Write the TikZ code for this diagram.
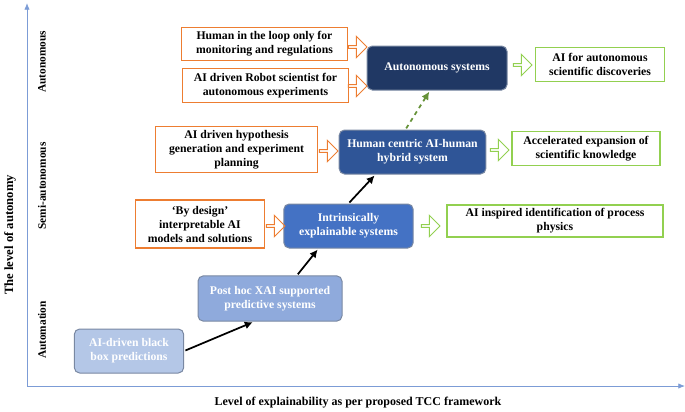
\documentclass[tikz,border=0pt]{standalone}
\usepackage{fontspec}
\setmainfont{Liberation Serif}
\usetikzlibrary{shapes.arrows,arrows.meta,calc}
\definecolor{axisblue}{RGB}{68,114,196}
\definecolor{lvlA}{RGB}{180,199,231}
\definecolor{lvlB}{RGB}{143,170,220}
\definecolor{lvlC}{RGB}{68,114,196}
\definecolor{lvlD}{RGB}{47,85,151}
\definecolor{lvlE}{RGB}{32,56,100}
\definecolor{boxorange}{RGB}{237,125,49}
\definecolor{boxgreen}{RGB}{146,208,80}
\tikzset{every picture/.style={line width=0.75pt}}
\tikzset{
  stage/.style={draw=lvlE!60, rounded corners=4pt, text=white, font=\fontsize{8.8}{10.5}\selectfont\bfseries, align=center, inner sep=1pt},
  driver/.style={draw=boxorange, line width=0.9pt, fill=white, font=\fontsize{8.8}{10.5}\selectfont\bfseries, align=center, inner sep=1pt},
  outcome/.style={draw=boxgreen, line width=0.9pt, fill=white, font=\fontsize{8.8}{10.5}\selectfont\bfseries, align=center, inner sep=1pt},
  hollow/.style={single arrow, draw=#1, line width=0.75pt, minimum width=16pt, single arrow head extend=2.5pt, minimum height=14pt, inner sep=0pt},
  advance/.style={-{Latex[length=6pt,width=6pt]}, line width=1.3pt, shorten >=1pt, shorten <=1pt},
  level/.style={rotate=90, font=\fontsize{8.5}{10}\selectfont\bfseries}
}

\begin{document}
\begin{tikzpicture}[x=0.75pt,y=0.75pt,yscale=-1,xscale=1]
\useasboundingbox (0,0) rectangle (685,411);

% axes
\coordinate (o) at (27,386);
\coordinate (ytop) at (27,3);
\coordinate (xend) at (685,386);
\draw [axisblue!70, line width=0.6pt, -{Latex[length=5pt,width=4pt]}] (o) -- (ytop);
\draw [axisblue!70, line width=0.6pt, -{Latex[length=5pt,width=4pt]}] (o) -- (xend);
\node [rotate=90, font=\fontsize{9.5}{11}\selectfont\bfseries] (ylab) at (10,235) {The level of autonomy};
\node [font=\fontsize{9}{11}\selectfont\bfseries] (xlab) at (358,403) {Level of explainability as per proposed TCC framework};
\node [level] (lauto) at (42,62) {Autonomous};
\node [level] (lsemi) at (42,186) {Semi-autonomous};
\node [level] (lmat) at (42,330) {Automation};

% stages
\node [stage, fill=lvlA, minimum width=82pt, minimum height=33pt] (black) at (129,351) {AI-driven black\\box predictions};
\node [stage, fill=lvlB, minimum width=108pt, minimum height=34pt] (posthoc) at (270,298.5) {Post hoc XAI supported\\predictive systems};
\node [stage, fill=lvlC, minimum width=97pt, minimum height=33pt] (intrin) at (348.5,226) {Intrinsically\\explainable systems};
\node [stage, fill=lvlD, minimum width=110pt, minimum height=33pt] (hybrid) at (412.5,152) {Human centric AI-human\\hybrid system};
\node [stage, fill=lvlE, minimum width=105pt, minimum height=33pt] (auto) at (437,68) {Autonomous systems};

% drivers
\node [driver, minimum width=124pt, minimum height=25pt] (loop) at (264.5,44) {Human in the loop only for\\monitoring and regulations};
\node [driver, minimum width=124pt, minimum height=25pt] (robot) at (265.5,85.5) {AI driven Robot scientist for\\autonomous experiments};
\node [driver, minimum width=122pt, minimum height=35pt] (hypo) at (236.5,149.5) {AI driven hypothesis\\generation and  experiment\\planning};
\node [driver, minimum width=97pt, minimum height=36pt] (design) at (200,224) {`By design'\\interpretable AI\\models and solutions};

% outcomes
\node [outcome, minimum width=97pt, minimum height=26pt] (disc) at (600,64.5) {AI for autonomous\\scientific discoveries};
\node [outcome, minimum width=111pt, minimum height=25pt] (accel) at (586,148.5) {Accelerated expansion of\\scientific knowledge};
\node [outcome, minimum width=162pt, minimum height=24pt] (phys) at (555,221) {AI inspired identification of process\\physics};

% hollow arrows
\node [hollow=boxorange] (h1) at (357,47) {};
\node [hollow=boxorange] (h2) at (357,86) {};
\node [hollow=boxorange] (h3) at (328,151) {};
\node [hollow=boxorange] (h4) at (275,226) {};
\node [hollow=boxgreen] (g1) at (522,65) {};
\node [hollow=boxgreen] (g2) at (499,150) {};
\node [hollow=boxgreen] (g3) at (430,226) {};

% progression
\draw [advance] (black.east) -- ($(posthoc.south)+(-16,0)$);
\draw [advance] ($(posthoc.north)+(27,0)$) -- ($(intrin.south)+(-30,0)$);
\draw [advance] (intrin.north) -- ($(hybrid.south)+(-37,0)$);
\draw [advance, boxgreen!70!black, dashed] ($(hybrid.north)+(-7,0)$) -- ($(auto.south)+(-7,0)$);

\end{tikzpicture}
\end{document}
